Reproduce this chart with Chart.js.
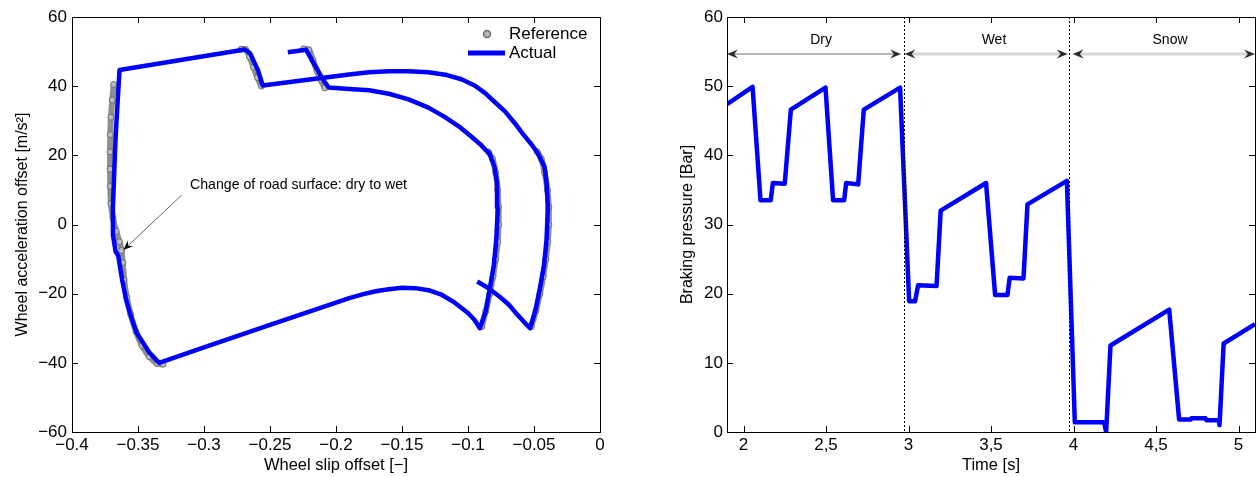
<!DOCTYPE html>
<html>
<head>
<meta charset="utf-8">
<title>Wheel slip and braking pressure</title>
<script src="https://cdn.jsdelivr.net/npm/chart.js@4"></script>
<style>
    html, body { margin: 0; padding: 0; background: #fff; }
    #wrap { position: relative; width: 1258px; height: 477px; }
    .box { position: absolute; top: 0; width: 629px; height: 477px; }
</style>
</head>
<body>
<div id="wrap">
    <div class="box" style="left:0"><canvas id="chartSlip"></canvas></div>
    <div class="box" style="left:629px"><canvas id="chartPressure"></canvas></div>
</div>
<script>
// left plot: actual trajectory (wheel slip offset, wheel acceleration offset)
var actualSlip = [-0.093, -0.085, -0.076, -0.069, -0.0635, -0.058, -0.053, -0.049, -0.0458, -0.0425,
    -0.0405, -0.0395, -0.0405, -0.042, -0.0471, -0.052, -0.058, -0.065, -0.072, -0.080,
    -0.087, -0.095, -0.105, -0.116, -0.13, -0.145, -0.16, -0.175, -0.19, -0.22,
    -0.2555, -0.259, -0.265, -0.269, -0.364, -0.3655, -0.367, -0.368, -0.369, -0.369,
    -0.367, -0.365, -0.362, -0.359, -0.355, -0.351, -0.341, -0.334, -0.30, -0.25,
    -0.20, -0.19, -0.18, -0.17, -0.16, -0.15, -0.14, -0.13, -0.12, -0.11,
    -0.10, -0.095, -0.091, -0.0865, -0.0837, -0.0805, -0.0786, -0.0774, -0.078, -0.080,
    -0.0837, -0.0865, -0.091, -0.098, -0.107, -0.118, -0.13, -0.145, -0.16, -0.175,
    -0.19, -0.2056, -0.21, -0.2175, -0.2226, -0.2365];
var actualAccel = [-16.5, -18.3, -20.9, -23.2, -25.7, -28, -30, -25, -19, -12,
    -4.5, 5, 12, 16.7, 20.6, 23.2, 26, 29.5, 32.7, 35.5,
    38, 40.2, 42, 43.2, 44, 44.3, 44.3, 44, 43.4, 41.9,
    40.2, 44.5, 49.5, 50.6, 44.7, 35, 25, 15, 5, -3,
    -7.8, -9, -16, -21.8, -27, -31.4, -37.2, -40, -35.5, -29,
    -22.6, -21.3, -20.2, -19.3, -18.7, -18.3, -18.4, -19.0, -20.3, -22.6,
    -25.6, -27.6, -30, -25, -19, -12, -4.5, 5, 12, 16.7,
    20.6, 21.5, 23.3, 25.6, 28.4, 31.2, 33.8, 36.2, 37.8, 38.8,
    39.2, 39.6, 42, 47, 50.5, 49.8];

// left plot: reference markers, one small array per visible stretch
var refSlip = [
    [-0.3685, -0.3695, -0.3705, -0.371, -0.3712, -0.3712, -0.371, -0.3705, -0.369, -0.3665, -0.364,
        -0.3625, -0.3615, -0.3605, -0.3585, -0.3555, -0.3515, -0.347, -0.3415, -0.3355, -0.331],
    [-0.272, -0.2685, -0.2655, -0.2625, -0.2595, -0.2565],
    [-0.2245, -0.2205, -0.2175, -0.2145, -0.2115, -0.2085],
    [-0.0845, -0.0815, -0.079, -0.0775, -0.0768, -0.0768, -0.0775, -0.079, -0.081, -0.0835, -0.0865, -0.0895],
    [-0.0475, -0.0445, -0.042, -0.0398, -0.0388, -0.0388, -0.0395, -0.041, -0.043, -0.0455, -0.0485, -0.052]
];
var refAccel = [
    [40.5, 36, 31, 26, 21, 16, 11, 6, 2, -2, -5, -7.5, -11, -16, -21, -26, -31, -35, -38.2, -40.2, -40.4],
    [50.7, 50.6, 48.5, 45.5, 42.5, 40],
    [50.8, 50.5, 47.5, 44.5, 41.8, 39.5],
    [21, 19, 15, 10, 5, 0, -5, -10, -15, -20, -25, -29.5],
    [21, 19, 15, 10, 5, 0, -5, -10, -15, -20, -25, -29.5]
];

// right plot: braking pressure over time
var timeS = [1.9, 2.055, 2.103, 2.165, 2.178, 2.25, 2.287, 2.497, 2.543, 2.61,
    2.622, 2.695, 2.729, 2.949, 3.004, 3.04, 3.058, 3.17, 3.195, 3.47,
    3.525, 3.60, 3.613, 3.697, 3.721, 3.96, 4.008, 4.185, 4.198, 4.224,
    4.58, 4.64, 4.71, 4.715, 4.80, 4.805, 4.88, 4.885, 4.91, 5.1];
var pressureBar = [47.4, 49.9, 33.5, 33.5, 36.0, 35.9, 46.6, 49.8, 33.5, 33.5,
    36.0, 35.8, 46.6, 49.8, 18.9, 18.9, 21.2, 21.1, 32.0, 36.0,
    19.8, 19.8, 22.3, 22.2, 32.9, 36.3, 1.4, 1.4, 0, 12.5,
    17.7, 1.8, 1.8, 2.0, 2.0, 1.7, 1.7, 1.0, 12.8, 15.6];

// road surface phases on the right plot
var phaseNames = ['Dry', 'Wet', 'Snow'];
var phaseStart = [1.9, 2.976, 3.995];
var phaseEnd = [2.955, 3.965, 5.1];
var phaseChanges = [2.975, 3.97];

var FONT = "'Liberation Sans', Arial, Helvetica, sans-serif";
Chart.defaults.font.family = FONT;
Chart.defaults.color = '#000';

function toPoints(xs, ys) {
    return xs.map(function (x, i) { return { x: x, y: ys[i] }; });
}

function minusSign(v) {
    var s = String(Math.round(v * 1000) / 1000);
    return s.replace('-', '\u2212');
}

// matlab style box with inward ticks on all four sides
var matlabFrame = {
    id: 'matlabFrame',
    afterDraw: function (chart) {
        var ctx = chart.ctx, a = chart.chartArea;
        var xs = chart.scales.x, ys = chart.scales.y;
        var len = 6;
        ctx.save();
        ctx.strokeStyle = '#000';
        ctx.lineWidth = 1;
        ctx.beginPath();
        xs.ticks.forEach(function (t) {
            var px = Math.round(xs.getPixelForValue(t.value)) + 0.5;
            ctx.moveTo(px, a.bottom); ctx.lineTo(px, a.bottom - len);
            ctx.moveTo(px, a.top); ctx.lineTo(px, a.top + len);
        });
        ys.ticks.forEach(function (t) {
            var py = Math.round(ys.getPixelForValue(t.value)) + 0.5;
            ctx.moveTo(a.left, py); ctx.lineTo(a.left + len, py);
            ctx.moveTo(a.right, py); ctx.lineTo(a.right - len, py);
        });
        ctx.stroke();
        ctx.strokeRect(Math.round(a.left) + 0.5, Math.round(a.top) + 0.5,
            Math.round(a.right - a.left), Math.round(a.bottom - a.top));
        ctx.restore();
    }
};

function arrowHead(ctx, tx, ty, angle, len, half) {
    ctx.save();
    ctx.translate(tx, ty);
    ctx.rotate(angle);
    ctx.beginPath();
    ctx.moveTo(0, 0);
    ctx.lineTo(-len, -half);
    ctx.lineTo(-len * 0.65, 0);
    ctx.lineTo(-len, half);
    ctx.closePath();
    ctx.fill();
    ctx.restore();
}

// legend in the corner + note about the road surface change
var slipNotes = {
    id: 'slipNotes',
    afterDraw: function (chart) {
        var ctx = chart.ctx, a = chart.chartArea;
        var xs = chart.scales.x, ys = chart.scales.y;
        ctx.save();

        // legend
        ctx.font = '17px ' + FONT;
        ctx.textBaseline = 'middle';
        ctx.beginPath();
        ctx.arc(a.right - 113, a.top + 17, 3.5, 0, Math.PI * 2);
        ctx.fillStyle = '#b5b5b5';
        ctx.fill();
        ctx.strokeStyle = '#6e6e6e';
        ctx.lineWidth = 1.5;
        ctx.stroke();
        ctx.strokeStyle = '#0000ff';
        ctx.lineWidth = 5;
        ctx.beginPath();
        ctx.moveTo(a.right - 132, a.top + 36);
        ctx.lineTo(a.right - 95, a.top + 36);
        ctx.stroke();
        ctx.fillStyle = '#000';
        ctx.fillText('Reference', a.right - 91, a.top + 17);
        ctx.fillText('Actual', a.right - 91, a.top + 36);

        // annotation text, squeezed like the narrow matlab font
        var txt = 'Change of road surface: dry to wet';
        var tx = xs.getPixelForValue(-0.3106), ty = ys.getPixelForValue(11.4);
        ctx.font = '15px ' + FONT;
        var w = ctx.measureText(txt).width;
        ctx.save();
        ctx.translate(tx, ty);
        ctx.scale(217 / w, 1);
        ctx.textAlign = 'left';
        ctx.fillText(txt, 0, 0);
        ctx.restore();

        // arrow to the point where the surface changes
        var x0 = xs.getPixelForValue(-0.3169), y0 = ys.getPixelForValue(8.5);
        var x1 = xs.getPixelForValue(-0.3611), y1 = ys.getPixelForValue(-7.4);
        ctx.strokeStyle = '#666';
        ctx.lineWidth = 1;
        ctx.beginPath();
        ctx.moveTo(x0, y0);
        ctx.lineTo(x1, y1);
        ctx.stroke();
        ctx.fillStyle = '#111';
        arrowHead(ctx, x1, y1, Math.atan2(y1 - y0, x1 - x0), 10, 4);
        ctx.restore();
    }
};

// dotted separators, phase arrows and their labels
var phaseNotes = {
    id: 'phaseNotes',
    afterDatasetsDraw: function (chart) {
        var ctx = chart.ctx, a = chart.chartArea;
        var xs = chart.scales.x, ys = chart.scales.y;
        ctx.save();
        ctx.strokeStyle = '#000';
        ctx.lineWidth = 1;
        ctx.setLineDash([2, 2]);
        phaseChanges.forEach(function (t) {
            var px = Math.round(xs.getPixelForValue(t)) + 0.5;
            ctx.beginPath();
            ctx.moveTo(px, a.top);
            ctx.lineTo(px, a.bottom);
            ctx.stroke();
        });
        ctx.setLineDash([]);

        var ay = ys.getPixelForValue(54.65);
        var ly = ys.getPixelForValue(56.7);
        var labelX = [2.47, 3.518, 4.585];
        ctx.font = '14px ' + FONT;
        ctx.textAlign = 'center';
        ctx.textBaseline = 'middle';
        phaseNames.forEach(function (name, i) {
            var x0 = xs.getPixelForValue(phaseStart[i]);
            var x1 = xs.getPixelForValue(phaseEnd[i]);
            ctx.strokeStyle = i === 0 ? '#6a6a6a' : '#d4d4d4';
            ctx.lineWidth = i === 0 ? 1 : 3;
            ctx.beginPath();
            ctx.moveTo(x0 + 6, ay);
            ctx.lineTo(x1 - 6, ay);
            ctx.stroke();
            ctx.fillStyle = '#2b2b2b';
            arrowHead(ctx, x1, ay, 0, 11, 4.5);
            arrowHead(ctx, x0, ay, Math.PI, 11, 4.5);
            ctx.fillStyle = '#000';
            ctx.fillText(name, xs.getPixelForValue(labelX[i]), ly);
        });
        ctx.restore();
    }
};

document.addEventListener("DOMContentLoaded", function () {
    // Wheel slip / acceleration plane
    var slipSets = [{
        label: 'Actual',
        data: toPoints(actualSlip, actualAccel),
        showLine: true,
        borderColor: '#0000ff',
        borderWidth: 4.5,
        borderJoinStyle: 'round',
        pointRadius: 0,
        tension: 0,
        order: 0
    }];
    refSlip.forEach(function (xs, k) {
        slipSets.push({
            label: 'Reference',
            data: toPoints(xs, refAccel[k]),
            showLine: true,
            borderColor: '#8f8f8f',
            borderWidth: 6,
            pointRadius: 3,
            pointBorderColor: '#6c6c6c',
            pointBackgroundColor: '#bdbdbd',
            pointBorderWidth: 1,
            tension: 0.3,
            order: 1
        });
    });

    new Chart(document.getElementById('chartSlip'), {
        type: 'scatter',
        data: { datasets: slipSets },
        options: {
            animation: false,
            responsive: true,
            maintainAspectRatio: false,
            layout: { padding: { top: 17, right: 29, left: 0, bottom: 0 } },
            plugins: { legend: { display: false }, tooltip: { enabled: false } },
            scales: {
                x: {
                    type: 'linear',
                    min: -0.4,
                    max: 0,
                    grid: { display: false, drawTicks: false },
                    border: { display: false },
                    ticks: {
                        stepSize: 0.05, padding: 3, autoSkip: false, maxRotation: 0,
                        includeBounds: false, color: '#000', font: { size: 17 },
                        callback: minusSign
                    },
                    title: {
                        display: true, text: 'Wheel slip offset [\u2212]', color: '#000',
                        font: { size: 16.5 }, padding: { top: 0, bottom: 2 }
                    },
                    afterFit: function (s) { s.height = 45; }
                },
                y: {
                    type: 'linear',
                    min: -60,
                    max: 60,
                    grid: { display: false, drawTicks: false },
                    border: { display: false },
                    ticks: {
                        stepSize: 20, padding: 5, includeBounds: false, color: '#000',
                        font: { size: 17 }, callback: minusSign
                    },
                    title: {
                        display: true, text: 'Wheel acceleration offset [m/s\u00b2]', color: '#000',
                        font: { size: 16 }, padding: { top: 13, bottom: 0 }
                    },
                    afterFit: function (s) { s.width = 72; }
                }
            }
        },
        plugins: [matlabFrame, slipNotes]
    });

    // Braking pressure over time
    new Chart(document.getElementById('chartPressure'), {
        type: 'scatter',
        data: {
            datasets: [{
                label: 'Braking pressure',
                data: toPoints(timeS, pressureBar),
                showLine: true,
                borderColor: '#0000ff',
                borderWidth: 4.5,
                borderJoinStyle: 'round',
                pointRadius: 0,
                tension: 0
            }]
        },
        options: {
            animation: false,
            responsive: true,
            maintainAspectRatio: false,
            layout: { padding: { top: 17, right: 3, left: 0, bottom: 0 } },
            plugins: { legend: { display: false }, tooltip: { enabled: false } },
            scales: {
                x: {
                    type: 'linear',
                    min: 1.9,
                    max: 5.1,
                    grid: { display: false, drawTicks: false },
                    border: { display: false },
                    ticks: {
                        stepSize: 0.5, padding: 3, autoSkip: false, maxRotation: 0,
                        includeBounds: false, color: '#000', font: { size: 17 },
                        callback: function (v) { return String(v).replace('.', ','); }
                    },
                    title: {
                        display: true, text: 'Time [s]', color: '#000',
                        font: { size: 16.5 }, padding: { top: 0, bottom: 2 }
                    },
                    afterFit: function (s) { s.height = 45; }
                },
                y: {
                    type: 'linear',
                    min: 0,
                    max: 60,
                    grid: { display: false, drawTicks: false },
                    border: { display: false },
                    ticks: {
                        stepSize: 10, padding: 4, includeBounds: false, color: '#000',
                        font: { size: 17 }
                    },
                    title: {
                        display: true, text: 'Braking pressure [Bar]', color: '#000',
                        font: { size: 16 }, padding: { top: 49, bottom: 0 }
                    },
                    afterFit: function (s) { s.width = 98; }
                }
            }
        },
        plugins: [matlabFrame, phaseNotes]
    });
});
</script>
</body>
</html>
